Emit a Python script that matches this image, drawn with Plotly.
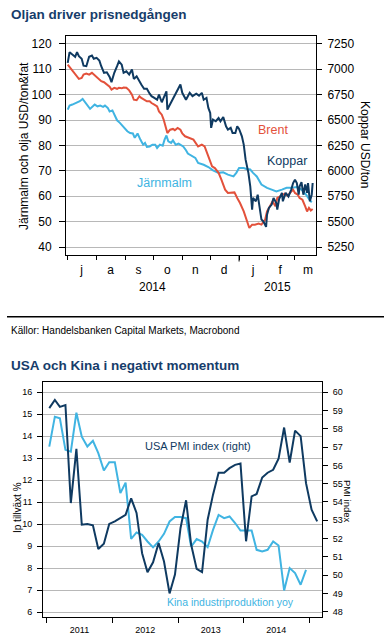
import plotly.graph_objects as go
import pandas as pd

W, H = 384, 644

# ---------------- Chart 1 data ----------------
koppar_dates = ["2014-07-01","2014-07-03","2014-07-06","2014-07-09","2014-07-11","2014-07-13","2014-07-16","2014-07-18","2014-07-21","2014-07-24","2014-07-27","2014-07-29","2014-08-01","2014-08-04","2014-08-06","2014-08-09","2014-08-12","2014-08-15","2014-08-17","2014-08-20","2014-08-23","2014-08-25","2014-08-28","2014-08-30","2014-09-02","2014-09-05","2014-09-08","2014-09-10","2014-09-13","2014-09-16","2014-09-18","2014-09-21","2014-09-24","2014-09-27","2014-09-29","2014-10-02","2014-10-05","2014-10-07","2014-10-10","2014-10-12","2014-10-15","2014-10-16","2014-10-19","2014-10-22","2014-10-24","2014-10-27","2014-10-30","2014-11-01",
                "2014-11-05","2014-11-09","2014-11-12","2014-11-16","2014-11-19","2014-11-22","2014-11-24","2014-11-27","2014-11-29","2014-12-01","2014-12-02","2014-12-04","2014-12-07","2014-12-10","2014-12-12","2014-12-15","2014-12-18","2014-12-20","2014-12-23","2014-12-25","2014-12-28","2014-12-30","2015-01-01","2015-01-04","2015-01-06","2015-01-08","2015-01-11","2015-01-13","2015-01-15","2015-01-16","2015-01-19","2015-01-21","2015-01-23","2015-01-25","2015-01-27","2015-01-30","2015-01-31","2015-02-02","2015-02-05","2015-02-07","2015-02-10","2015-02-11","2015-02-13","2015-02-16","2015-02-17","2015-02-20","2015-02-23","2015-02-26","2015-02-28","2015-03-02","2015-03-04","2015-03-06","2015-03-07","2015-03-09","2015-03-11","2015-03-13","2015-03-15","2015-03-16","2015-03-18","2015-03-20","2015-03-21"]
koppar_usd_ton = [7063, 7168, 7145, 7123, 7168, 7128, 7103, 7035, 7030, 7123, 7135, 7103, 7113, 7085, 7030, 6965, 6970, 6925, 6873, 6965, 7030, 7078, 7045, 6965, 6980, 6948, 6998, 6905, 6930, 6873, 6850, 6808, 6808, 6760, 6735, 6718, 6700, 6750, 6675, 6718, 6783, 6603, 6653, 6718, 6750, 6800, 6850, 6768,
                  6700, 6768, 6735, 6760, 6740, 6768, 6700, 6718, 6620, 6570, 6423, 6505, 6488, 6520, 6488, 6530, 6438, 6405, 6423, 6373, 6373, 6438, 6413, 6340, 6258, 6110, 5980, 5848, 5618, 5733, 5700, 5765, 5650, 5520, 5503, 5448, 5568, 5635, 5668, 5733, 5683, 5618, 5723, 5783, 5700, 5783, 5748, 5815, 5880, 5913, 5880, 5765, 5848, 5888, 5765, 5865, 5783, 5880, 5700, 5765, 5880]

brent_dates = koppar_dates[:48] + ["2014-11-04","2014-11-08",
               "2014-11-13","2014-11-18","2014-11-22","2014-11-25","2014-11-29","2014-12-03","2014-12-06","2014-12-10","2014-12-13","2014-12-17","2014-12-20","2014-12-24","2014-12-27","2014-12-30","2015-01-02","2015-01-06","2015-01-09","2015-01-12","2015-01-15","2015-01-18","2015-01-22","2015-01-25","2015-01-29","2015-01-31","2015-02-03","2015-02-06","2015-02-09","2015-02-11","2015-02-14","2015-02-17","2015-02-19","2015-02-22","2015-02-25","2015-02-28","2015-03-02","2015-03-05","2015-03-07","2015-03-10","2015-03-13","2015-03-15","2015-03-17","2015-03-19","2015-03-21"]
brent_usd = [111.8, 110.9, 109.6, 108.3, 107.5, 106.2, 106.6, 107.9, 108.3, 107.9, 108.6, 107.9, 107.0, 106.2, 105.3, 104.9, 104.0, 103.1, 102.0, 102.7, 102.3, 102.7, 102.5, 102.8, 102.7, 101.7, 100.0, 98.0, 97.8, 99.4, 98.7, 98.0, 97.4, 97.4, 96.7, 96.1, 95.4, 93.4, 92.1, 90.2, 86.2, 84.9, 86.2, 86.5, 86.0, 86.9, 86.2, 84.7, 83.6, 83.0,
             82.3, 79.6, 80.3, 79.6, 75.7, 71.8, 71.1, 69.2, 66.5, 62.6, 61.3, 61.3, 61.5, 59.3, 57.3, 54.0, 50.8, 47.5, 48.8, 48.8, 49.2, 48.8, 50.8, 54.0, 56.0, 58.0, 56.0, 59.3, 59.9, 60.6, 61.0, 60.2, 61.5, 62.6, 61.3, 60.6, 59.3, 58.6, 56.0, 54.0, 55.4, 54.4, 55.0]

jarn_dates = ["2014-07-01","2014-07-03","2014-07-06","2014-07-09","2014-07-11","2014-07-14","2014-07-17","2014-07-20","2014-07-22","2014-07-25","2014-07-28","2014-07-30","2014-08-02","2014-08-05","2014-08-08","2014-08-10","2014-08-13","2014-08-15","2014-08-18","2014-08-21","2014-08-23","2014-08-26","2014-08-29","2014-09-01","2014-09-03","2014-09-06","2014-09-09","2014-09-11","2014-09-14","2014-09-17","2014-09-20","2014-09-22","2014-09-24","2014-09-27","2014-09-30","2014-10-03","2014-10-05","2014-10-08","2014-10-11","2014-10-13","2014-10-15","2014-10-17","2014-10-20","2014-10-22","2014-10-25","2014-10-28","2014-10-30","2014-11-02","2014-11-05","2014-11-07",
              "2014-11-15","2014-11-18","2014-11-24","2014-11-29","2014-12-04","2014-12-10","2014-12-15","2014-12-20","2014-12-26","2014-12-29","2015-01-01","2015-01-06","2015-01-09","2015-01-13","2015-01-16","2015-01-20","2015-01-25","2015-01-31","2015-02-05","2015-02-10","2015-02-16","2015-02-21","2015-02-27","2015-03-04","2015-03-09","2015-03-14","2015-03-17","2015-03-20"]
jarn_usd = [94.1, 95.7, 96.1, 96.5, 96.8, 97.4, 98.3, 96.8, 95.7, 94.4, 95.4, 96.1, 95.4, 95.7, 95.2, 95.7, 94.8, 93.4, 93.8, 91.5, 89.9, 88.9, 87.5, 86.2, 85.6, 84.9, 84.7, 83.0, 84.7, 82.3, 80.3, 81.0, 79.4, 79.6, 80.3, 80.3, 79.0, 80.3, 79.9, 82.3, 83.9, 81.6, 81.0, 82.0, 80.3, 80.7, 80.3, 79.6, 78.1, 76.8,
            75.1, 73.1, 72.4, 71.5, 70.2, 69.2, 69.4, 68.5, 67.8, 69.2, 71.1, 71.1, 70.7, 70.5, 69.2, 67.8, 64.6, 63.3, 62.6, 61.9, 62.6, 63.3, 63.3, 63.6, 62.6, 60.6, 58.9, 57.6]

c1_left_ticks = [40, 50, 60, 70, 80, 90, 100, 110, 120]
c1_right_ticks = [5250, 5500, 5750, 6000, 6250, 6500, 6750, 7000, 7250]
c1_month_labels = ["j", "a", "s", "o", "n", "d", "j", "f", "m"]
c1_month_label_dates = ["2014-07-16", "2014-08-16", "2014-09-15", "2014-10-16", "2014-11-15",
                        "2014-12-16", "2015-01-16", "2015-02-14", "2015-03-16"]
c1_month_starts = ["2014-07-01", "2014-08-01", "2014-09-01", "2014-10-01", "2014-11-01",
                   "2014-12-01", "2015-01-01", "2015-02-01", "2015-03-01"]
c1_years = ["2014", "2015"]
c1_year_centers = ["2014-09-30", "2015-02-11"]

# ---------------- Chart 2 data ----------------
usa_pmi = [59.13, 59.58, 59.2, 59.3, 53.94, 56.9, 52.76, 52.8, 52.72, 51.43,
           51.72, 52.8, 52.94, 53.12, 53.3, 54.2, 53.4, 51.2, 50.16, 50.7,
           51.76, 50.74, 49.0, 50.03, 52.58, 54.09, 51.67, 50.34, 50.16, 53.03,
           54.4, 55.6, 55.6, 55.85, 56.03, 56.1, 51.85, 54.3, 54.44, 55.34,
           55.6, 55.76, 56.36, 58.07, 56.16, 57.9, 57.6, 55.03, 53.58, 52.94]
kina_ip = [13.53, 14.89, 14.82, 13.38, 13.3, 15.07, 13.98, 13.53, 13.79, 13.23,
           12.44, 12.82, 12.82, 11.41, 11.89, 9.33, 9.62, 9.51, 9.21, 8.94,
           9.21, 9.56, 10.12, 10.32, 10.32, 10.27, 8.98, 9.32, 9.21, 8.95,
           9.74, 10.42, 10.27, 10.35, 10.05, 9.71, 9.71, 9.71, 8.83, 8.76,
           8.83, 9.21, 9.03, 6.98, 8.0, 7.77, 7.24, 7.92]
pmi_months = pd.date_range("2011-01-01", periods=len(usa_pmi), freq="MS") + pd.Timedelta(days=14)
kina_months = pd.date_range("2011-01-01", periods=len(kina_ip), freq="MS") + pd.Timedelta(days=14)

c2_left_ticks = [6, 7, 8, 9, 10, 11, 12, 13, 14, 15, 16]
c2_right_ticks = [48, 49, 50, 51, 52, 53, 54, 55, 56, 57, 58, 59, 60]
c2_year_labels = ["2011", "2012", "2013", "2014"]
c2_year_label_dates = ["2011-07-02", "2012-07-02", "2013-07-02", "2014-07-02"]
c2_year_starts = ["2011-01-01", "2012-01-01", "2013-01-01", "2014-01-01", "2015-01-01"]

NAVY = "#0f3a61"
RED = "#e3513b"
LBLUE = "#40b4e2"
TITLE = "#173d6b"
GRID = "#b8b8b8"
FONT = "Liberation Sans, Arial, sans-serif"


def px(x):
    return x / W


def py(y):
    return 1 - y / H


fig = go.Figure()

# Chart 1 traces
fig.add_trace(go.Scatter(x=jarn_dates, y=jarn_usd, mode="lines", line=dict(color=LBLUE, width=2),
                         xaxis="x", yaxis="y", name="Järnmalm"))
fig.add_trace(go.Scatter(x=brent_dates, y=brent_usd, mode="lines", line=dict(color=RED, width=2),
                         xaxis="x", yaxis="y", name="Brent"))
fig.add_trace(go.Scatter(x=koppar_dates, y=koppar_usd_ton, mode="lines", line=dict(color=NAVY, width=2),
                         xaxis="x", yaxis="y2", name="Koppar"))

# Chart 2 traces
fig.add_trace(go.Scatter(x=kina_months, y=kina_ip, mode="lines", line=dict(color=LBLUE, width=2),
                         xaxis="x2", yaxis="y3", name="Kina"))
fig.add_trace(go.Scatter(x=pmi_months, y=usa_pmi, mode="lines", line=dict(color=NAVY, width=2),
                         xaxis="x2", yaxis="y4", name="USA PMI"))

line_common = dict(showline=True, linecolor="black", linewidth=1, zeroline=False)

fig.update_layout(
    width=W, height=H, margin=dict(l=0, r=0, t=0, b=0),
    paper_bgcolor="white", plot_bgcolor="white", showlegend=False,
    font=dict(family=FONT, color="black"),
    xaxis=dict(domain=[px(66), px(316)], anchor="y", type="date",
               range=["2014-06-29 04:00", "2015-03-24 14:00"],
               tickmode="array", tickvals=c1_month_label_dates, ticktext=c1_month_labels,
               ticks="outside", ticklen=4, tickcolor="rgba(0,0,0,0)", showgrid=False,
               minor=dict(tickmode="array", tickvals=c1_month_starts, ticks="outside",
                          ticklen=4, tickcolor="black", showgrid=False),
               mirror=True, **line_common,
               tickfont=dict(family=FONT, size=12, color="black")),
    yaxis=dict(domain=[py(255), py(36)], anchor="x", range=[36.85, 123.1],
               tickmode="array", tickvals=c1_left_ticks, ticks="outside", ticklen=6,
               tickcolor="black", showgrid=True, gridcolor=GRID, gridwidth=1, mirror=True,
               ticklabelstandoff=5, **line_common,
               tickfont=dict(family=FONT, size=12, color="black")),
    yaxis2=dict(overlaying="y", side="right", anchor="x", range=[5171.25, 7327.5],
                tickmode="array", tickvals=c1_right_ticks, ticks="outside", ticklen=5,
                tickcolor="black", showgrid=False, showline=False, zeroline=False,
                ticklabelstandoff=3,
                tickfont=dict(family=FONT, size=12, color="black")),
    xaxis2=dict(domain=[px(43), px(322)], anchor="y3", type="date",
                range=["2010-12-11", "2015-03-14"],
                tickmode="array", tickvals=c2_year_label_dates, ticktext=c2_year_labels,
                ticks="outside", ticklen=4, tickcolor="rgba(0,0,0,0)", showgrid=False,
                minor=dict(tickmode="array", tickvals=c2_year_starts, ticks="outside",
                           ticklen=5, tickcolor="black", showgrid=False),
                mirror=True, **line_common,
                tickfont=dict(family=FONT, size=9, color="black")),
    yaxis3=dict(domain=[py(617), py(382)], anchor="x2", range=[5.773, 16.468],
                tickmode="array", tickvals=c2_left_ticks, ticks="outside", ticklen=5,
                tickcolor="black", showgrid=True, gridcolor=GRID, gridwidth=1, mirror=True,
                ticklabelstandoff=3, **line_common,
                tickfont=dict(family=FONT, size=9, color="black")),
    yaxis4=dict(overlaying="y3", side="right", anchor="x2", range=[47.71, 60.56],
                tickmode="array", tickvals=c2_right_ticks, ticks="outside", ticklen=5,
                tickcolor="black", showgrid=False, showline=False, zeroline=False,
                ticklabelstandoff=3,
                tickfont=dict(family=FONT, size=9, color="black")),
)

annotations = [
    dict(text="<b>Oljan driver prisnedgången</b>", x=px(9), y=py(15), xanchor="left", yanchor="middle",
         font=dict(size=13.5, color=TITLE)),
    dict(text="Järnmalm och olja USD/ton&fat", x=px(24), y=py(146), textangle=-90,
         font=dict(size=12, color="black")),
    dict(text="Koppar USD/ton", x=px(365), y=py(144), textangle=90,
         font=dict(size=12, color="black")),
    dict(text="Brent", x=px(273), y=py(130), font=dict(size=12.5, color=RED)),
    dict(text="Koppar", x=px(287), y=py(161), font=dict(size=12.5, color=NAVY)),
    dict(text="Järnmalm", x=px(164), y=py(183), font=dict(size=12.5, color=LBLUE)),
    dict(text="Källor: Handelsbanken Capital Markets, Macrobond", x=px(9), y=py(330),
         xanchor="left", yanchor="middle", font=dict(size=10, color="black")),
    dict(text="<b>USA och Kina i negativt momentum</b>", x=px(9), y=py(365), xanchor="left",
         yanchor="middle", font=dict(size=13.5, color=TITLE)),
    dict(text="Ip tillväxt %", x=px(17), y=py(508), textangle=-90, font=dict(size=10, color="black")),
    dict(text="PMI index", x=px(348), y=py(501), textangle=90, font=dict(size=9.5, color="black")),
    dict(text="USA PMI index (right)", x=px(198), y=py(446), font=dict(size=11, color=NAVY)),
    dict(text="Kina industriproduktion yoy", x=px(230), y=py(602), font=dict(size=10.5, color=LBLUE)),
]
for yr, d in zip(c1_years, c1_year_centers):
    annotations.append(dict(text=yr, x=d, xref="x", y=py(287), yref="paper",
                            font=dict(size=12, color="black")))
for a in annotations:
    a.setdefault("xref", "paper")
    a.setdefault("yref", "paper")
    a.setdefault("showarrow", False)
    a.setdefault("xanchor", "center")
    a.setdefault("yanchor", "middle")
fig.update_layout(annotations=annotations)

fig.update_layout(shapes=[
    dict(type="line", xref="paper", yref="paper", x0=px(7), x1=px(384), y0=py(316.7), y1=py(316.7),
         line=dict(color="black", width=1.5)),
    dict(type="line", xref="x", yref="paper", x0=c1_month_starts[6], x1=c1_month_starts[6],
         y0=py(255), y1=py(261.5), line=dict(color="black", width=1)),
])

fig.write_html("out.html", config={"displayModeBar": False},
               post_script="document.body.style.margin='0';document.body.style.overflow='hidden';")
